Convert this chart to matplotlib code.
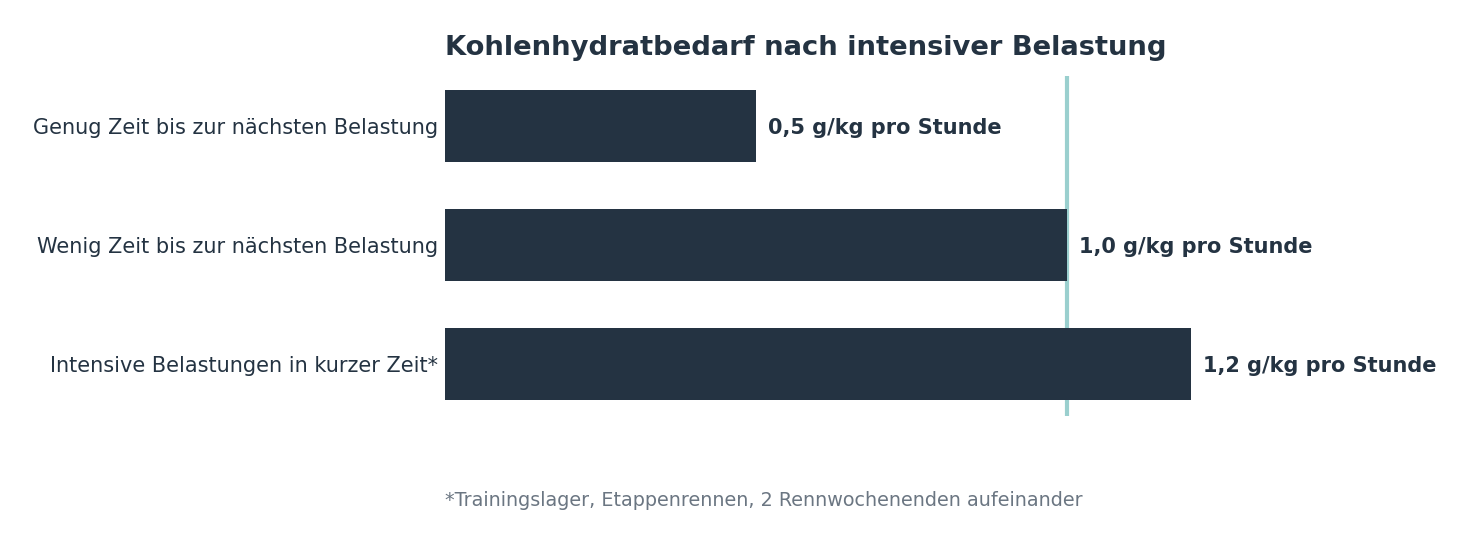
import matplotlib.pyplot as plt

# data
categories = [
    "Genug Zeit bis zur nächsten Belastung",
    "Wenig Zeit bis zur nächsten Belastung",
    "Intensive Belastungen in kurzer Zeit*",
]
values = [0.5, 1.0, 1.2]
value_labels = ["0,5 g/kg pro Stunde", "1,0 g/kg pro Stunde", "1,2 g/kg pro Stunde"]
ref_value = 1.0

title = "Kohlenhydratbedarf nach intensiver Belastung"
footnote = "*Trainingslager, Etappenrennen, 2 Rennwochenenden aufeinander"

dark = "#243342"
teal = "#9ACFCE"
grey = "#6B7682"

fig = plt.figure(figsize=(14.7, 5.43), dpi=100)
W, H = 1470, 543
ax = fig.add_axes([445 / W, 1 - 416 / H, 995.2 / W, 340 / H])

pos = list(range(len(categories)))
ax.barh(pos, values, height=0.6, color=dark, zorder=2)
ax.axvline(ref_value, color=teal, linewidth=3, zorder=1)

for p, v, lab in zip(pos, values, value_labels):
    ax.text(v + 0.019, p, lab, va="center_baseline", ha="left",
            fontsize=15, fontweight="bold", color=dark)

ax.set_xlim(0, 1.6)
ax.set_ylim(2.437, -0.42)
ax.set_yticks(pos)
ax.set_yticklabels(categories, fontsize=15, color=dark)
ax.tick_params(axis="y", length=0, pad=5)
ax.set_xticks([])
for s in ax.spines.values():
    s.set_visible(False)

fig.text(445 / W, 1 - 48 / H, title, ha="left", va="center",
         fontsize=19.75, fontweight="bold", color=dark)
fig.text(445 / W, 1 - 500 / H, footnote, ha="left", va="center",
         fontsize=13.8, color=grey)

fig.savefig("out.png", dpi=100)
